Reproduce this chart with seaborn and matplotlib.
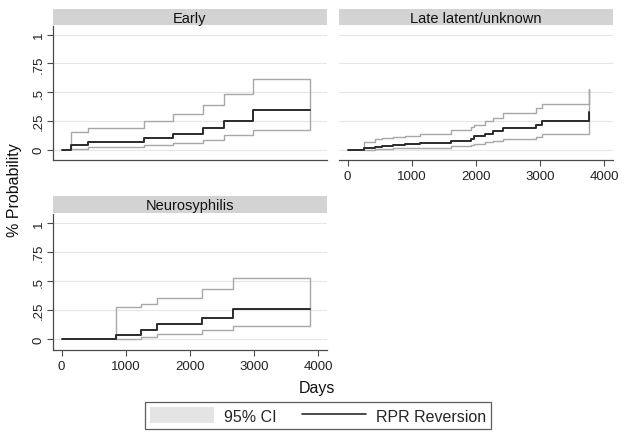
import numpy as np
import pandas as pd
import matplotlib
matplotlib.use("Agg")
import matplotlib.pyplot as plt
import seaborn as sns
from matplotlib.patches import Patch
from matplotlib.lines import Line2D

W, H = 625, 439

groups = ["Early", "Late latent/unknown", "Neurosyphilis"]

# Kaplan-Meier style failure estimates (day of each step)
early_days = [0, 140, 417, 1286, 1745, 2203, 2536, 2979, 3880]
early_est = [0, 0.043, 0.063, 0.10, 0.138, 0.187, 0.25, 0.345, 0.345]
early_lo = [np.nan, 0.009, 0.02, 0.037, 0.06, 0.086, 0.124, 0.17, 0.17]
early_hi = [np.nan, 0.152, 0.19, 0.247, 0.307, 0.39, 0.483, 0.618, 0.618]

late_days = [0, 260, 420, 530, 700, 900, 1130, 1620, 1920, 1970, 2140,
             2270, 2430, 2945, 3040, 3760]
late_est = [0, 0.011, 0.022, 0.030, 0.038, 0.047, 0.058, 0.075, 0.095, 0.115,
            0.140, 0.160, 0.187, 0.218, 0.252, 0.325]
late_lo = [np.nan, 0.001, 0.004, 0.007, 0.010, 0.014, 0.018, 0.029, 0.040, 0.050,
           0.065, 0.075, 0.089, 0.109, 0.138, 0.142]
late_hi = [np.nan, 0.07, 0.09, 0.10, 0.11, 0.12, 0.14, 0.167, 0.20, 0.215,
           0.25, 0.273, 0.316, 0.36, 0.40, 0.526]

neuro_days = [0, 842, 1231, 1481, 2192, 2675, 3870]
neuro_est = [0, 0.04, 0.085, 0.13, 0.182, 0.257, 0.257]
neuro_lo = [np.nan, 0.006, 0.02, 0.046, 0.078, 0.116, 0.116]
neuro_hi = [np.nan, 0.277, 0.30, 0.353, 0.436, 0.523, 0.523]

x_ticks = [0, 1000, 2000, 3000, 4000]
y_ticks = [0, 0.25, 0.5, 0.75, 1]
y_tick_labels = ["0", ".25", ".5", ".75", "1"]

data = {
    "Early": pd.DataFrame({"days": early_days, "est": early_est, "lo": early_lo, "hi": early_hi}),
    "Late latent/unknown": pd.DataFrame({"days": late_days, "est": late_est, "lo": late_lo, "hi": late_hi}),
    "Neurosyphilis": pd.DataFrame({"days": neuro_days, "est": neuro_est, "lo": neuro_lo, "hi": neuro_hi}),
}

sns.set_style("white")
plt.rcParams["font.family"] = ["Liberation Sans", "DejaVu Sans"]

AXIS_COL = "#4a4a4a"
CI_COL = "#a8a8a8"
EST_COL = "#2b2b2b"
GRID_COL = "#e6e6e6"
STRIP_COL = "#d3d3d3"


def rect(x0, y0, x1, y1):
    return [x0 / W, 1 - y1 / H, (x1 - x0) / W, (y1 - y0) / H]


# (plot box, strip box, show y axis, show x ticks)
layout = {
    "Early": ((53, 27, 327, 161), (53, 10, 327, 26), True, False),
    "Late latent/unknown": ((339, 27, 613, 161), (339, 10, 613, 26), False, True),
    "Neurosyphilis": ((53, 215, 327, 351), (53, 197, 327, 214), True, True),
}

fig = plt.figure(figsize=(W / 100, H / 100), dpi=100)

for name in groups:
    box, strip_box, show_y, show_x = layout[name]
    df = data[name]
    ax = fig.add_axes(rect(*box))

    for yv in y_ticks:
        ax.axhline(yv, color=GRID_COL, lw=0.8, zorder=0)

    ci = df.dropna(subset=["lo", "hi"])
    ax.fill_between(ci["days"], ci["lo"], ci["hi"], step="post",
                    facecolor="none", edgecolor=CI_COL, lw=1.0, zorder=2)
    sns.lineplot(data=df, x="days", y="est", drawstyle="steps-post",
                 color=EST_COL, lw=1.4, ax=ax, zorder=3)

    ax.set_xlim(-135, 4140)
    ax.set_ylim(-0.09, 1.075)
    ax.set_xlabel("")
    ax.set_ylabel("")
    for s in ["top", "right"]:
        ax.spines[s].set_visible(False)
    ax.spines["bottom"].set_color(AXIS_COL)
    ax.spines["bottom"].set_linewidth(0.9)
    ax.spines["left"].set_color(AXIS_COL)
    ax.spines["left"].set_linewidth(0.9)
    ax.spines["left"].set_visible(show_y)

    ax.set_xticks(x_ticks)
    if show_x:
        ax.tick_params(axis="x", bottom=True, length=4, width=0.8, color=AXIS_COL,
                       labelsize=9.5, labelcolor="#222222", pad=3)
    else:
        ax.tick_params(axis="x", bottom=False, labelbottom=False)

    ax.set_yticks(y_ticks)
    if show_y:
        ax.set_yticklabels(y_tick_labels)
        ax.tick_params(axis="y", left=True, length=4, width=0.8, color=AXIS_COL,
                       labelsize=9.5, labelcolor="#222222", pad=2, labelrotation=90)
        for lab in ax.get_yticklabels():
            lab.set_va("center")
    else:
        ax.tick_params(axis="y", left=False, labelleft=False)

    sax = fig.add_axes(rect(*strip_box))
    sax.set_facecolor(STRIP_COL)
    sax.set_xticks([])
    sax.set_yticks([])
    for s in sax.spines.values():
        s.set_visible(False)
    sax.text(0.5, 0.45, name, ha="center", va="center", fontsize=10.5,
             color="#111111", transform=sax.transAxes)

fig.text(15 / W, 1 - 190 / H, "% Probability", rotation=90, ha="center",
         va="center", fontsize=11.5, color="#111111")
fig.text(317 / W, 1 - 389 / H, "Days", ha="center", va="center",
         fontsize=11.5, color="#111111")

handles = [Patch(facecolor="#e4e4e4", edgecolor="none"),
           Line2D([0], [0], color=EST_COL, lw=1.2)]
leg = fig.legend(handles, ["95% CI", "RPR Reversion"], loc="center",
                 bbox_to_anchor=(318 / W, 1 - 416.5 / H), ncol=2, frameon=True,
                 fancybox=False, edgecolor="#333333", fontsize=11.5,
                 handlelength=4.0, handleheight=1.1, columnspacing=1.6,
                 handletextpad=0.6, borderpad=0.35, borderaxespad=0)
leg.get_frame().set_linewidth(0.9)

fig.savefig("out.png", dpi=100)
